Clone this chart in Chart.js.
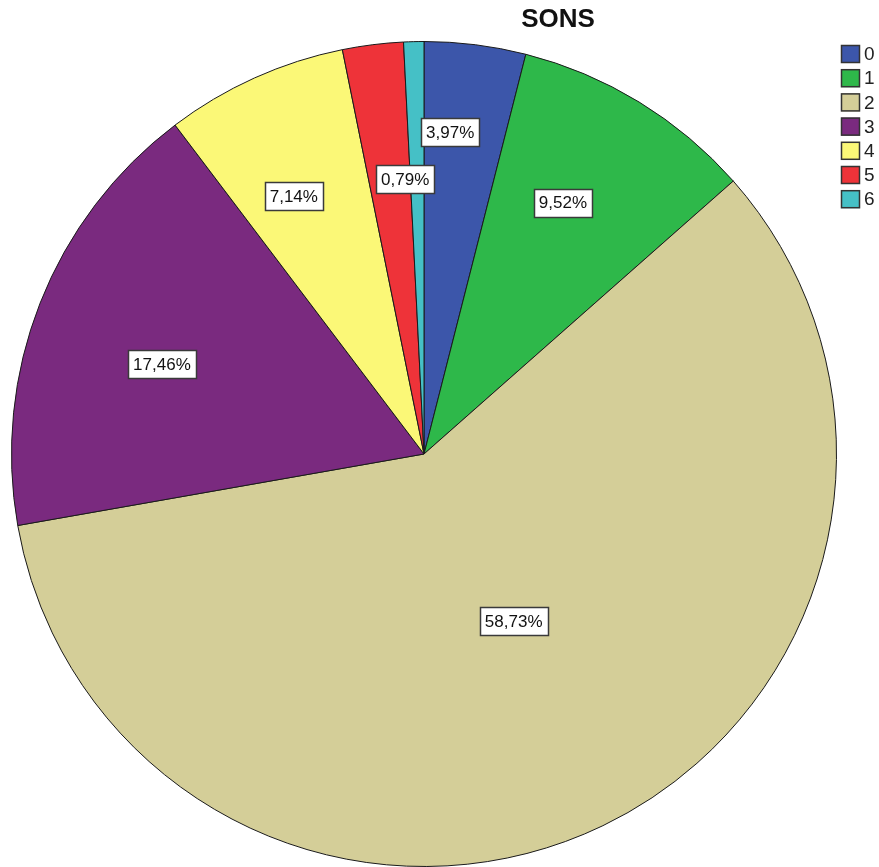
<!DOCTYPE html>
<html>
<head>
<meta charset="utf-8">
<script src="https://cdn.jsdelivr.net/npm/chart.js@4/dist/chart.umd.min.js"></script>
<style>
  html, body { margin: 0; padding: 0; background: #fff; }
  #wrap { width: 879px; height: 867px; }
</style>
</head>
<body>
<div id="wrap"><canvas id="pieChart"></canvas></div>
<script>
const chartTitle = 'SONS';
const categories = ['0', '1', '2', '3', '4', '5', '6'];
const percents = [3.97, 9.52, 58.73, 17.46, 7.14, 2.38, 0.79];
const sliceColors = ['#3c56aa', '#2eb84a', '#d4ce98', '#7a2a7f', '#fbf877', '#ee3339', '#45c0c6'];
const hiddenLabels = [5]; // slice 5 has no value box

function fmt(v) {
    return v.toFixed(2).replace('.', ',') + '%';
}

// title, legend and the value boxes are drawn by hand
const sonsPlugin = {
    id: 'sons',
    afterDatasetsDraw(chart) {
        const ctx = chart.ctx;
        const meta = chart.getDatasetMeta(0);

        // value boxes, placed near each slice's centroid
        ctx.save();
        ctx.font = '17px "Liberation Sans", Arial, sans-serif';
        ctx.textAlign = 'center';
        ctx.textBaseline = 'middle';
        const boxes = [];
        meta.data.forEach((arc, i) => {
            if (hiddenLabels.includes(i)) return;
            const p = arc.getProps(['x', 'y', 'startAngle', 'endAngle', 'outerRadius'], true);
            const a = p.endAngle - p.startAngle;
            const mid = (p.startAngle + p.endAngle) / 2 - 2.5 * Math.PI / 180;
            let r = 4 * Math.sin(a / 2) / (3 * a) * 1.06;
            r = Math.max(r, 0.46) * p.outerRadius;
            const text = fmt(percents[i]);
            const w = ctx.measureText(text).width + 10;
            boxes.push({ i, mid, r, w, h: 28, text, cx: p.x, cy: p.y });
        });
        // push overlapping boxes apart along their radii
        for (let k = 0; k < 80; k++) {
            let moved = false;
            for (let m = 0; m < boxes.length; m++) {
                for (let n = m + 1; n < boxes.length; n++) {
                    const A = boxes[m], B = boxes[n];
                    const ax = A.cx + Math.cos(A.mid) * A.r, ay = A.cy + Math.sin(A.mid) * A.r;
                    const bx = B.cx + Math.cos(B.mid) * B.r, by = B.cy + Math.sin(B.mid) * B.r;
                    if (Math.abs(ax - bx) < (A.w + B.w) / 2 + 4 && Math.abs(ay - by) < (A.h + B.h) / 2 + 18) {
                        A.r += 2; B.r -= 1;
                        moved = true;
                    }
                }
            }
            if (!moved) break;
        }
        boxes.forEach(b => {
            const x = b.cx + Math.cos(b.mid) * b.r;
            const y = b.cy + Math.sin(b.mid) * b.r;
            const bx = Math.round(x - b.w / 2), by = Math.round(y - b.h / 2);
            ctx.fillStyle = '#ffffff';
            ctx.fillRect(bx, by, Math.round(b.w), b.h);
            ctx.strokeStyle = '#3a3a3a';
            ctx.lineWidth = 1.5;
            ctx.strokeRect(bx + 0.5, by + 0.5, Math.round(b.w), b.h);
            ctx.fillStyle = '#111';
            ctx.fillText(b.text, x, y + 1);
        });

        // title
        ctx.font = 'bold 26px "Liberation Sans", Arial, sans-serif';
        ctx.fillStyle = '#111';
        ctx.fillText(chartTitle, 558, 20);

        // legend
        ctx.font = '19px "Liberation Sans", Arial, sans-serif';
        ctx.textAlign = 'left';
        categories.forEach((c, i) => {
            const y = 45 + i * 24.2;
            ctx.fillStyle = sliceColors[i];
            ctx.fillRect(841, y, 19, 18);
            ctx.strokeStyle = '#333';
            ctx.lineWidth = 1.5;
            ctx.strokeRect(841.5, y + 0.5, 18, 17);
            ctx.fillStyle = '#222';
            ctx.fillText(c, 864, y + 10);
        });
        ctx.restore();
    }
};

new Chart(document.getElementById('pieChart').getContext('2d'), {
    type: 'pie',
    data: {
        labels: categories,
        datasets: [{
            data: percents,
            backgroundColor: sliceColors,
            borderColor: '#1a1a1a',
            borderWidth: 1
        }]
    },
    options: {
        responsive: true,
        maintainAspectRatio: false,
        animation: false,
        layout: { padding: { top: 41, left: 10, right: 41, bottom: 0 } },
        plugins: {
            legend: { display: false },
            tooltip: { enabled: false },
            title: { display: false }
        }
    },
    plugins: [sonsPlugin]
});
</script>
</body>
</html>
